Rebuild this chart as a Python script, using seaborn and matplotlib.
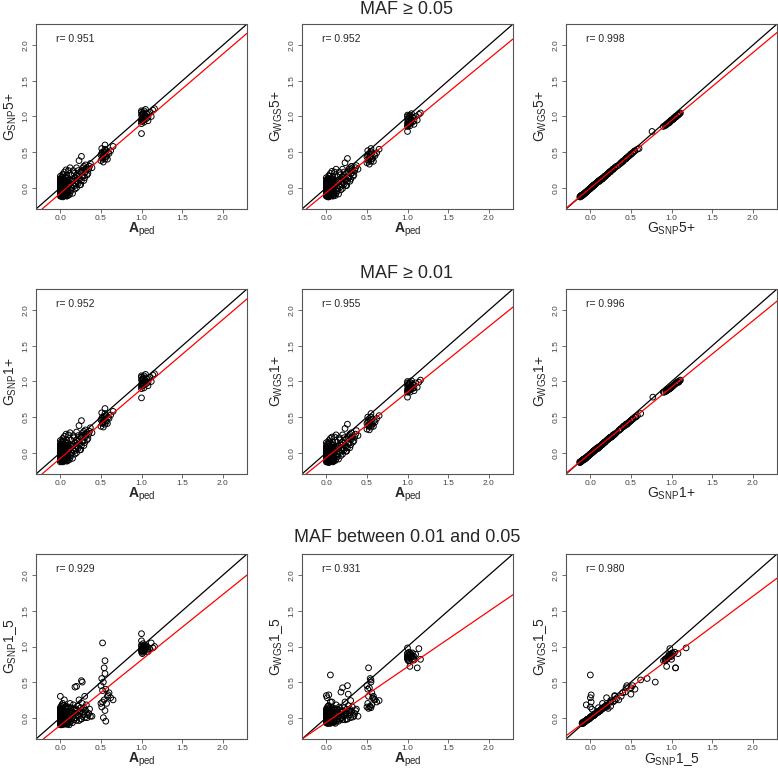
import numpy as np
import pandas as pd
import matplotlib
matplotlib.use("Agg")
import matplotlib.pyplot as plt
import seaborn as sns

# pedigree relationship, shared by all rows
a_ped = [
    0.00, 0.00, 0.00, 0.00, 0.00, 0.00, 0.00, 0.00,
    0.01, 0.01, 0.01, 0.01, 0.01, 0.01, 0.02, 0.02,
    0.03, 0.03, 0.03, 0.03, 0.03, 0.03, 0.04, 0.04, 0.04, 0.04,
    0.05, 0.05, 0.05, 0.05, 0.06, 0.06, 0.06, 0.06,
    0.07, 0.07, 0.07, 0.07, 0.08, 0.08,
    0.09, 0.10, 0.10, 0.11, 0.12, 0.12, 0.13, 0.14, 0.15, 0.16,
    0.17, 0.18, 0.19, 0.20, 0.20, 0.21, 0.22, 0.23, 0.24, 0.25,
    0.25, 0.26, 0.27, 0.28, 0.29, 0.30, 0.31, 0.33, 0.35, 0.37,
    0.50, 0.50, 0.51, 0.52, 0.52, 0.53, 0.53, 0.54,
    0.55, 0.55, 0.56, 0.56, 0.58, 0.60, 0.62, 0.65,
    1.00, 1.00, 1.00, 1.00, 1.00, 1.01, 1.02, 1.02, 1.03,
    1.04, 1.05, 1.06, 1.07, 1.08, 1.10, 1.12, 1.14, 1.16,
    # more pairs in the dense low-relationship cloud
    0.00, 0.00, 0.00, 0.00, 0.00, 0.00, 0.01, 0.01, 0.01,
    0.02, 0.02, 0.02, 0.02, 0.03, 0.03, 0.03,
    0.04, 0.04, 0.04, 0.04, 0.05, 0.05, 0.05, 0.06, 0.06, 0.06,
    0.07, 0.07, 0.07, 0.08, 0.08, 0.08, 0.09, 0.09, 0.10, 0.10,
    0.11, 0.12, 0.13, 0.14, 0.15, 0.16, 0.17, 0.18, 0.19, 0.20,
    0.21, 0.22, 0.23, 0.24,
    0.26, 0.27, 0.28, 0.29, 0.30, 0.31, 0.32, 0.34, 0.36, 0.39,
    # more half-sib and full-sib / parent-offspring pairs
    0.51, 0.52, 0.54, 0.55, 0.57, 0.59,
    1.00, 1.00, 1.01, 1.01, 1.02, 1.03, 1.04, 1.05, 1.06, 1.08,
]

# MAF >= 0.05
g_snp5 = [
    -0.12, -0.08, -0.04, 0.00, 0.04, 0.08, 0.12, 0.16,
    -0.10, -0.06, -0.02, 0.02, 0.06, 0.10, -0.12, 0.14,
    -0.09, -0.05, 0.00, 0.05, 0.09, 0.19, -0.12, -0.03, 0.03, 0.12,
    -0.08, 0.00, 0.07, 0.22, -0.11, -0.04, 0.04, 0.14,
    -0.07, 0.01, 0.09, 0.25, -0.12, 0.18,
    -0.06, 0.02, 0.24, -0.10, 0.06, 0.28, -0.04, 0.12, -0.08, 0.04,
    0.20, -0.02, 0.10, 0.28, 0.00, 0.16, 0.06, 0.38, 0.12, 0.22,
    0.04, 0.44, 0.16, 0.28, 0.10, 0.22, 0.32, 0.18, 0.26, 0.34,
    0.38, 0.46, 0.55, 0.42, 0.50, 0.36, 0.44, 0.50,
    0.60, 0.40, 0.44, 0.52, 0.40, 0.48, 0.52, 0.58,
    0.76, 0.90, 0.96, 1.02, 1.08, 0.94, 0.99, 1.05, 0.92,
    1.00, 1.10, 0.97, 1.03, 0.94, 1.06, 1.00, 1.09, 1.11,
    -0.10, -0.06, -0.02, 0.02, 0.06, 0.10, -0.12, 0.00, 0.14,
    -0.08, -0.03, 0.04, 0.09, -0.13, 0.02, 0.15,
    -0.09, -0.06, 0.07, 0.18, -0.11, 0.04, 0.11, -0.08, 0.00, 0.09,
    -0.11, -0.03, 0.14, -0.06, 0.02, 0.10, -0.11, 0.14, -0.05, 0.10,
    0.04, -0.07, 0.18, 0.00, 0.09, 0.24, 0.02, 0.14, 0.05, 0.18,
    0.08, 0.24, 0.14, 0.04,
    0.10, 0.24, 0.16, 0.30, 0.14, 0.22, 0.26, 0.20, 0.30, 0.28,
    0.48, 0.40, 0.46, 0.54, 0.44, 0.50,
    0.93, 1.06, 0.98, 1.03, 0.95, 1.08, 0.97, 1.01, 1.05, 0.99,
]
g_wgs5 = [
    -0.12, -0.09, -0.05, -0.01, 0.03, 0.07, 0.10, 0.14,
    -0.11, -0.07, -0.03, 0.01, 0.05, 0.09, -0.13, 0.12,
    -0.10, -0.06, -0.01, 0.04, 0.08, 0.17, -0.12, -0.04, 0.02, 0.11,
    -0.09, -0.01, 0.06, 0.20, -0.11, -0.05, 0.03, 0.12,
    -0.08, 0.00, 0.08, 0.23, -0.12, 0.16,
    -0.07, 0.01, 0.22, -0.11, 0.05, 0.26, -0.05, 0.10, -0.09, 0.03,
    0.18, -0.03, 0.09, 0.26, -0.01, 0.14, 0.05, 0.35, 0.11, 0.20,
    0.03, 0.41, 0.14, 0.26, 0.09, 0.20, 0.30, 0.16, 0.24, 0.31,
    0.35, 0.43, 0.52, 0.39, 0.47, 0.33, 0.41, 0.47,
    0.55, 0.37, 0.41, 0.49, 0.37, 0.45, 0.49, 0.54,
    0.79, 0.86, 0.91, 0.96, 1.02, 0.89, 0.94, 1.00, 0.87,
    0.95, 1.04, 0.92, 0.98, 0.89, 1.00, 0.95, 1.03, 1.05,
    -0.11, -0.07, -0.03, 0.01, 0.05, 0.09, -0.12, -0.01, 0.12,
    -0.09, -0.04, 0.03, 0.08, -0.13, 0.01, 0.13,
    -0.10, -0.07, 0.06, 0.16, -0.11, 0.03, 0.09, -0.09, -0.01, 0.08,
    -0.11, -0.04, 0.12, -0.07, 0.01, 0.09, -0.11, 0.12, -0.06, 0.09,
    0.03, -0.08, 0.16, -0.01, 0.08, 0.22, 0.01, 0.12, 0.04, 0.16,
    0.07, 0.22, 0.12, 0.03,
    0.09, 0.22, 0.14, 0.28, 0.12, 0.20, 0.24, 0.18, 0.28, 0.26,
    0.45, 0.37, 0.43, 0.51, 0.41, 0.47,
    0.88, 1.00, 0.92, 0.97, 0.90, 1.02, 0.91, 0.95, 0.99, 0.94,
]

# MAF >= 0.01
g_snp1 = [
    -0.13, -0.08, -0.04, 0.00, 0.04, 0.08, 0.12, 0.17,
    -0.10, -0.06, -0.02, 0.02, 0.06, 0.10, -0.12, 0.14,
    -0.09, -0.05, 0.00, 0.05, 0.09, 0.20, -0.12, -0.03, 0.03, 0.12,
    -0.08, 0.00, 0.07, 0.23, -0.11, -0.04, 0.04, 0.14,
    -0.07, 0.01, 0.09, 0.26, -0.12, 0.18,
    -0.06, 0.02, 0.25, -0.10, 0.06, 0.28, -0.04, 0.12, -0.08, 0.04,
    0.21, -0.02, 0.10, 0.29, 0.00, 0.16, 0.06, 0.38, 0.12, 0.22,
    0.04, 0.45, 0.16, 0.28, 0.10, 0.23, 0.32, 0.18, 0.26, 0.35,
    0.37, 0.46, 0.56, 0.42, 0.50, 0.36, 0.44, 0.51,
    0.62, 0.40, 0.45, 0.52, 0.41, 0.48, 0.53, 0.58,
    0.77, 0.90, 0.96, 1.02, 1.08, 0.94, 0.99, 1.05, 0.91,
    1.00, 1.10, 0.97, 1.03, 0.94, 1.06, 1.00, 1.09, 1.11,
    -0.10, -0.06, -0.02, 0.02, 0.06, 0.11, -0.12, 0.00, 0.15,
    -0.08, -0.03, 0.04, 0.09, -0.13, 0.02, 0.16,
    -0.09, -0.06, 0.07, 0.18, -0.11, 0.04, 0.11, -0.08, 0.00, 0.09,
    -0.11, -0.03, 0.14, -0.06, 0.02, 0.10, -0.11, 0.14, -0.05, 0.10,
    0.04, -0.07, 0.18, 0.00, 0.09, 0.24, 0.02, 0.14, 0.05, 0.18,
    0.08, 0.24, 0.14, 0.04,
    0.10, 0.24, 0.16, 0.30, 0.14, 0.22, 0.26, 0.20, 0.30, 0.28,
    0.48, 0.41, 0.46, 0.55, 0.44, 0.50,
    0.93, 1.06, 0.98, 1.03, 0.95, 1.08, 0.97, 1.01, 1.05, 0.99,
]
g_wgs1 = [
    -0.13, -0.09, -0.06, -0.02, 0.02, 0.06, 0.09, 0.14,
    -0.11, -0.08, -0.04, 0.00, 0.04, 0.07, -0.13, 0.11,
    -0.10, -0.07, -0.02, 0.03, 0.06, 0.17, -0.13, -0.05, 0.01, 0.09,
    -0.09, -0.02, 0.05, 0.20, -0.12, -0.06, 0.02, 0.11,
    -0.09, -0.01, 0.07, 0.22, -0.13, 0.15,
    -0.08, 0.00, 0.22, -0.11, 0.04, 0.25, -0.06, 0.09, -0.09, 0.02,
    0.18, -0.04, 0.07, 0.25, -0.02, 0.13, 0.04, 0.34, 0.09, 0.19,
    0.02, 0.40, 0.13, 0.24, 0.07, 0.20, 0.28, 0.15, 0.22, 0.31,
    0.33, 0.41, 0.50, 0.38, 0.45, 0.32, 0.39, 0.46,
    0.55, 0.36, 0.40, 0.47, 0.37, 0.43, 0.48, 0.52,
    0.78, 0.85, 0.89, 0.94, 1.00, 0.87, 0.91, 0.97, 0.85,
    0.92, 1.01, 0.90, 0.95, 0.87, 0.98, 0.92, 0.99, 1.02,
    -0.11, -0.08, -0.04, 0.00, 0.04, 0.08, -0.13, -0.02, 0.12,
    -0.10, -0.05, 0.02, 0.06, -0.14, 0.00, 0.13,
    -0.10, -0.08, 0.05, 0.15, -0.12, 0.02, 0.08, -0.10, -0.02, 0.06,
    -0.12, -0.05, 0.11, -0.08, 0.00, 0.07, -0.12, 0.11, -0.07, 0.07,
    0.02, -0.09, 0.15, -0.02, 0.06, 0.21, 0.00, 0.11, 0.03, 0.15,
    0.06, 0.21, 0.11, 0.02,
    0.07, 0.21, 0.13, 0.26, 0.11, 0.19, 0.22, 0.17, 0.26, 0.24,
    0.43, 0.37, 0.41, 0.50, 0.40, 0.45,
    0.86, 0.98, 0.90, 0.95, 0.88, 0.99, 0.89, 0.93, 0.97, 0.91,
]

# MAF between 0.01 and 0.05
g_snp15 = [
    -0.10, -0.06, -0.02, 0.02, 0.06, 0.10, 0.14, 0.30,
    -0.08, -0.04, 0.00, 0.04, 0.08, 0.12, -0.10, 0.18,
    -0.07, -0.03, 0.01, 0.05, 0.09, 0.20, -0.09, -0.02, 0.03, 0.11,
    -0.06, 0.00, 0.06, 0.25, -0.08, -0.03, 0.04, 0.14,
    -0.05, 0.01, 0.08, 0.16, -0.09, 0.12,
    -0.08, 0.00, 0.15, -0.10, 0.04, 0.20, -0.05, 0.08, -0.07, 0.02,
    0.12, 0.43, 0.06, 0.44, -0.04, 0.10, 0.02, 0.25, 0.08, 0.14,
    -0.02, 0.52, 0.50, 0.12, 0.04, 0.30, 0.10, 0.00, 0.06, 0.02,
    0.45, 0.20, 0.55, 1.05, 0.22, 0.50, 0.00, 0.70,
    0.80, 0.62, 0.40, -0.05, 0.30, 0.35, 0.28, 0.25,
    0.92, 1.18, 1.08, 1.00, 0.95, 0.90, 0.98, 1.04, 0.94,
    1.02, 0.97, 0.99, 0.93, 0.96, 0.97, 1.05, 0.98, 1.00,
    -0.08, -0.04, 0.00, 0.04, 0.08, 0.12, -0.10, 0.02, 0.16,
    -0.06, -0.02, 0.05, 0.10, -0.09, 0.03, 0.14,
    -0.07, -0.04, 0.06, 0.17, -0.09, 0.03, 0.10, -0.07, 0.00, 0.08,
    -0.09, -0.02, 0.12, -0.05, 0.02, 0.09, -0.09, 0.13, -0.04, 0.08,
    0.03, -0.06, 0.14, -0.02, 0.06, 0.18, -0.03, 0.10, 0.00, 0.12,
    0.04, 0.16, -0.04, 0.06,
    -0.02, 0.20, 0.08, 0.14, 0.00, 0.10, 0.18, 0.04, 0.12, 0.02,
    0.15, 0.38, 0.25, 0.10, 0.20, 0.32,
    0.96, 1.02, 0.94, 0.99, 0.92, 1.00, 0.95, 0.97, 1.01, 0.93,
]
g_wgs15 = [
    -0.07, -0.05, -0.02, 0.02, 0.05, 0.08, 0.12, 0.31,
    -0.06, -0.03, 0.28, 0.03, 0.07, 0.10, -0.08, 0.16,
    -0.06, -0.02, 0.32, 0.04, 0.08, 0.17, -0.07, -0.02, 0.03, 0.09,
    -0.05, 0.60, 0.05, 0.22, -0.06, -0.02, 0.03, 0.12,
    -0.04, 0.22, 0.07, 0.14, -0.07, 0.10,
    -0.06, 0.00, 0.13, -0.08, 0.04, 0.18, -0.04, 0.07, -0.05, 0.02,
    0.10, 0.36, 0.05, 0.42, -0.03, 0.09, 0.02, 0.22, 0.07, 0.12,
    -0.02, 0.45, 0.33, 0.10, 0.04, 0.24, 0.09, 0.01, 0.06, 0.12,
    0.45, 0.15, 0.40, 0.70, 0.13, 0.42, 0.15, 0.55,
    0.50, 0.53, 0.35, 0.18, 0.30, 0.25, 0.22, 0.24,
    0.82, 0.98, 0.90, 0.86, 0.84, 0.80, 0.88, 0.92, 0.72,
    0.90, 0.85, 0.87, 0.83, 0.86, 0.89, 0.70, 0.97, 0.82,
    -0.07, -0.03, 0.00, 0.03, 0.07, 0.10, -0.08, 0.02, 0.14,
    -0.05, -0.02, 0.04, 0.08, -0.08, 0.03, 0.12,
    -0.06, -0.03, 0.05, 0.14, -0.08, 0.03, 0.08, -0.06, 0.00, 0.07,
    -0.07, -0.02, 0.10, -0.04, 0.02, 0.08, -0.07, 0.11, -0.03, 0.07,
    0.03, -0.05, 0.12, -0.02, 0.05, 0.15, -0.02, 0.08, 0.00, 0.10,
    0.03, 0.14, -0.03, 0.05,
    -0.02, 0.17, 0.07, 0.12, 0.00, 0.09, 0.15, 0.03, 0.10, 0.02,
    0.20, 0.30, 0.16, 0.14, 0.28, 0.26,
    0.85, 0.90, 0.82, 0.88, 0.80, 0.89, 0.84, 0.86, 0.91, 0.81,
]

row_titles = ["MAF \u2265 0.05", "MAF \u2265 0.01", "MAF between 0.01 and 0.05"]
row_tags = ["5+", "1+", "1_5"]
# correlation per panel (row by row)
r_values = [[0.951, 0.952, 0.998], [0.952, 0.955, 0.996], [0.929, 0.931, 0.980]]
# fitted regression line (intercept, slope) per panel
fit_intercept = [[-0.080, -0.068, -0.005], [-0.080, -0.070, -0.010], [-0.107, -0.066, 0.000]]
fit_slope = [[0.978, 0.938, 0.950], [0.974, 0.920, 0.930], [0.918, 0.780, 0.852]]

sns.set_style("ticks")
plt.rcParams["font.family"] = ["Liberation Sans", "DejaVu Sans"]
plt.rcParams["mathtext.fontset"] = "custom"
plt.rcParams["mathtext.rm"] = "Liberation Sans"
plt.rcParams["mathtext.bf"] = "Liberation Sans:bold"
plt.rcParams["mathtext.it"] = "Liberation Sans:italic"

rows = [
    pd.DataFrame({"A": a_ped, "snp": g_snp5, "wgs": g_wgs5}),
    pd.DataFrame({"A": a_ped, "snp": g_snp1, "wgs": g_wgs1}),
    pd.DataFrame({"A": a_ped, "snp": g_snp15, "wgs": g_wgs15}),
]

W, H = 778, 769
fig = plt.figure(figsize=(W / 100, H / 100), dpi=100)
col_left = [36, 302, 566]
row_top = [24, 289, 554]
title_y = [9, 274, 538]
aw, ah = 211, 185
grey = "#555555"

for i, df in enumerate(rows):
    tag = row_tags[i]
    lab_A = r"$\mathbf{A}_{\mathrm{ped}}$"
    lab_snp = "G$_{\\mathrm{SNP}}$" + tag
    lab_wgs = "G$_{\\mathrm{WGS}}$" + tag
    panels = [("A", "snp", lab_A, lab_snp), ("A", "wgs", lab_A, lab_wgs),
              ("snp", "wgs", lab_snp, lab_wgs)]
    for j, (xc, yc, xl, yl) in enumerate(panels):
        ax = fig.add_axes([col_left[j] / W, 1 - (row_top[i] + ah) / H, aw / W, ah / H])
        sns.scatterplot(data=df, x=xc, y=yc, ax=ax, marker="o", s=17,
                        facecolor="none", edgecolor="black", linewidth=0.7)
        ax.axline((0, 0), slope=1, color="black", lw=0.9)
        ax.axline((0, fit_intercept[i][j]), slope=fit_slope[i][j], color="red", lw=0.9)
        ax.set_xlim(-0.3, 2.3)
        ax.set_ylim(-0.3, 2.3)
        ax.set_xticks([0, 0.5, 1.0, 1.5, 2.0])
        ax.set_yticks([0, 0.5, 1.0, 1.5, 2.0])
        ax.set_xticklabels(["0.0", "0.5", "1.0", "1.5", "2.0"])
        ax.set_yticklabels(["0.0", "0.5", "1.0", "1.5", "2.0"], rotation=90, va="center")
        ax.tick_params(length=3, width=0.6, color=grey, labelcolor="#444444",
                       labelsize=6, pad=1.5)
        for sp in ax.spines.values():
            sp.set_color(grey)
            sp.set_linewidth(0.8)
        ax.set_xlabel(xl, fontsize=10, labelpad=-1)
        ax.set_ylabel(yl, fontsize=10, labelpad=3)
        ax.text(0.095, 0.92, f"r= {r_values[i][j]:.3f}", transform=ax.transAxes,
                fontsize=7.5, va="center", ha="left")
    fig.text(407 / W, 1 - title_y[i] / H, row_titles[i], fontsize=13,
             ha="center", va="center")

fig.savefig("out.png", dpi=100)
